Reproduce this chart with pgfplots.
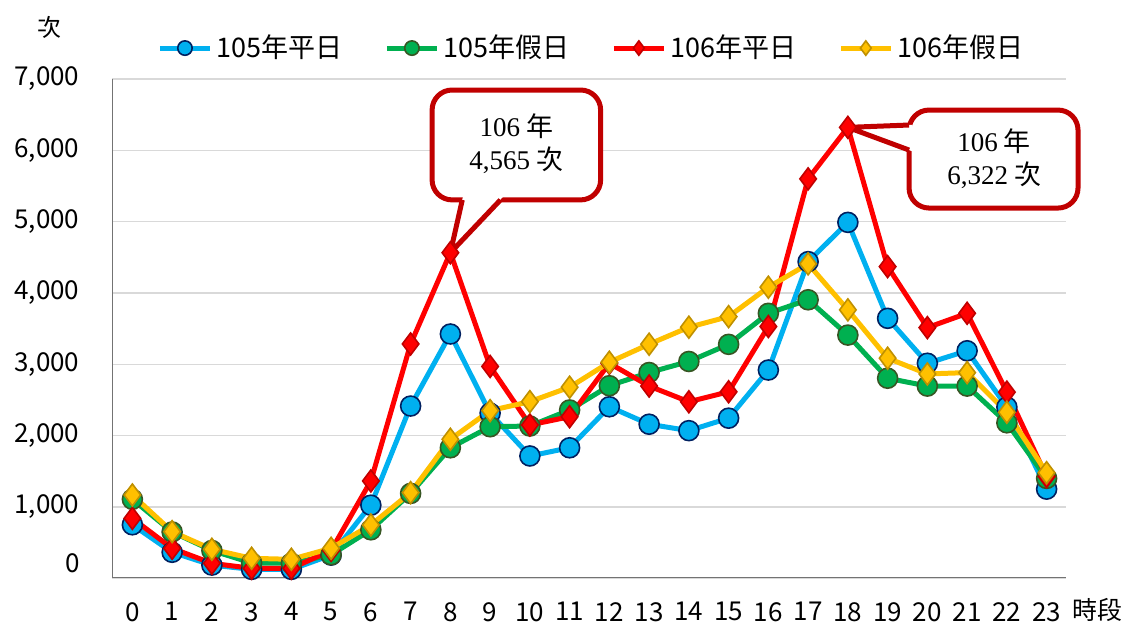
\documentclass[border=0pt]{standalone}
\usepackage{pgfplots}
\pgfplotsset{compat=1.18}
\usepackage{fontspec}
\setmainfont{Noto Sans CJK TC}
\newfontfamily\serifnum{Liberation Serif}
\newfontfamily\cjk{Noto Sans CJK TC}
\definecolor{cblue}{HTML}{00B0F0}
\definecolor{cblueE}{HTML}{002060}
\definecolor{cgreen}{HTML}{00B050}
\definecolor{cgreenE}{HTML}{375623}
\definecolor{cred}{HTML}{FF0000}
\definecolor{credE}{HTML}{C00000}
\definecolor{cyel}{HTML}{FFC000}
\definecolor{cyelE}{HTML}{BF9000}
\definecolor{callout}{HTML}{C00000}
\begin{document}
\begin{tikzpicture}
\useasboundingbox (0,0) rectangle (560.5pt,314pt);
\begin{axis}[
  at={(56.25pt,24.85pt)}, anchor=south west,
  scale only axis, width=477pt, height=249.65pt,
  xmin=-0.5, xmax=23.5, ymin=0, ymax=7000,
  xtick={0,...,23}, ytick={1000,2000,...,7000},
  extra y ticks={0},
  extra y tick style={yticklabel style={yshift=7.5pt}},
  major tick length=0pt,
  axis x line*=bottom, axis y line*=left,
  axis line style={draw=black!55, line width=0.9pt},
  ymajorgrids, major grid style={draw=black!15, line width=0.8pt},
  /pgf/number format/.cd, 1000 sep={,}, assume math mode=true,
  /pgfplots/.cd,
  ticklabel style={font=\fontsize{13}{13}\selectfont},
  xticklabel style={yshift=-8.5pt},
  yticklabel style={xshift=-13pt},
  clip=false,
  legend columns=4,
  legend style={at={(0.503,1.062)}, anchor=center, draw=none, fill=none,
    font=\fontsize{13.5}{13.5}\selectfont, column sep=0pt,
    /tikz/every even column/.append style={column sep=19pt}},
  legend image code/.code={
    \draw[#1, mark size=3.6pt, mark repeat=2, mark phase=2] plot coordinates {(0pt,0pt) (12.5pt,0pt) (25pt,0pt)};
  },
  every axis plot/.append style={line width=2.5pt},
]
\addplot[color=cblue, mark=*, mark size=5pt, mark options={fill=cblue, draw=cblueE, line width=0.8pt, solid}] coordinates {
(0,750)(1,365)(2,185)(3,125)(4,125)(5,325)(6,1025)(7,2415)(8,3425)(9,2315)(10,1715)(11,1830)
(12,2405)(13,2160)(14,2070)(15,2245)(16,2920)(17,4440)(18,4990)(19,3645)(20,3015)(21,3190)(22,2400)(23,1250)};
\addlegendentry{105年平日}
\addplot[color=cgreen, mark=*, mark size=5pt, mark options={fill=cgreen, draw=cgreenE, line width=0.8pt, solid}] coordinates {
(0,1108)(1,650)(2,390)(3,215)(4,210)(5,330)(6,680)(7,1190)(8,1830)(9,2125)(10,2135)(11,2360)
(12,2700)(13,2885)(14,3040)(15,3280)(16,3715)(17,3905)(18,3410)(19,2805)(20,2695)(21,2695)(22,2180)(23,1400)};
\addlegendentry{105年假日}
\addplot[color=cred, mark=diamond*, mark size=5.5pt, mark options={fill=cred, draw=credE, line width=0.8pt, solid}] coordinates {
(0,840)(1,420)(2,210)(3,140)(4,140)(5,390)(6,1365)(7,3285)(8,4565)(9,2970)(10,2150)(11,2265)
(12,3015)(13,2695)(14,2475)(15,2615)(16,3530)(17,5600)(18,6322)(19,4370)(20,3515)(21,3715)(22,2610)(23,1425)};
\addlegendentry{106年平日}
\addplot[color=cyel, mark=diamond*, mark size=5.5pt, mark options={fill=cyel, draw=cyelE, line width=0.8pt, solid}] coordinates {
(0,1168)(1,654)(2,407)(3,280)(4,266)(5,421)(6,748)(7,1201)(8,1949)(9,2351)(10,2477)(11,2679)
(12,3029)(13,3282)(14,3520)(15,3669)(16,4081)(17,4408)(18,3763)(19,3086)(20,2865)(21,2884)(22,2328)(23,1481)};
\addlegendentry{106年假日}
% callout 1
\draw[draw=callout, line width=2.5pt, fill=white, rounded corners=10pt]
  (axis cs:7.54,5305) rectangle (axis cs:11.78,6846);
\fill[white] (axis cs:8.32,5360) -- (axis cs:8,4565) -- (axis cs:9.345,5360) -- cycle;
\draw[draw=callout, line width=2.5pt, line join=round]
  (axis cs:8.30,5305) -- (axis cs:8,4565) -- (axis cs:9.26,5305);
\node[align=center, font=\fontsize{13.5}{16.5}\selectfont] at (axis cs:9.66,6090)
  {{\serifnum 106} 年\\{\serifnum 4,565} 次};
% callout 2
\draw[draw=callout, line width=2.5pt, fill=white, rounded corners=10pt]
  (axis cs:19.54,5191) rectangle (axis cs:23.79,6565);
\fill[white] (axis cs:19.63,6358) -- (axis cs:18,6322) -- (axis cs:19.63,5985) -- cycle;
\draw[draw=callout, line width=2.5pt, line join=round]
  (axis cs:19.54,6355) -- (axis cs:18,6322) -- (axis cs:19.54,6004);
\node[align=center, font=\fontsize{13.5}{16.5}\selectfont] at (axis cs:21.68,5890)
  {{\serifnum 106} 年\\{\serifnum 6,322} 次};
\end{axis}
\node[font=\fontsize{12}{12}\selectfont] at (25pt,300.5pt) {次};
\node[font=\fontsize{12.5}{12.5}\selectfont] at (548.5pt,9pt) {時段};
\end{tikzpicture}
\end{document}
